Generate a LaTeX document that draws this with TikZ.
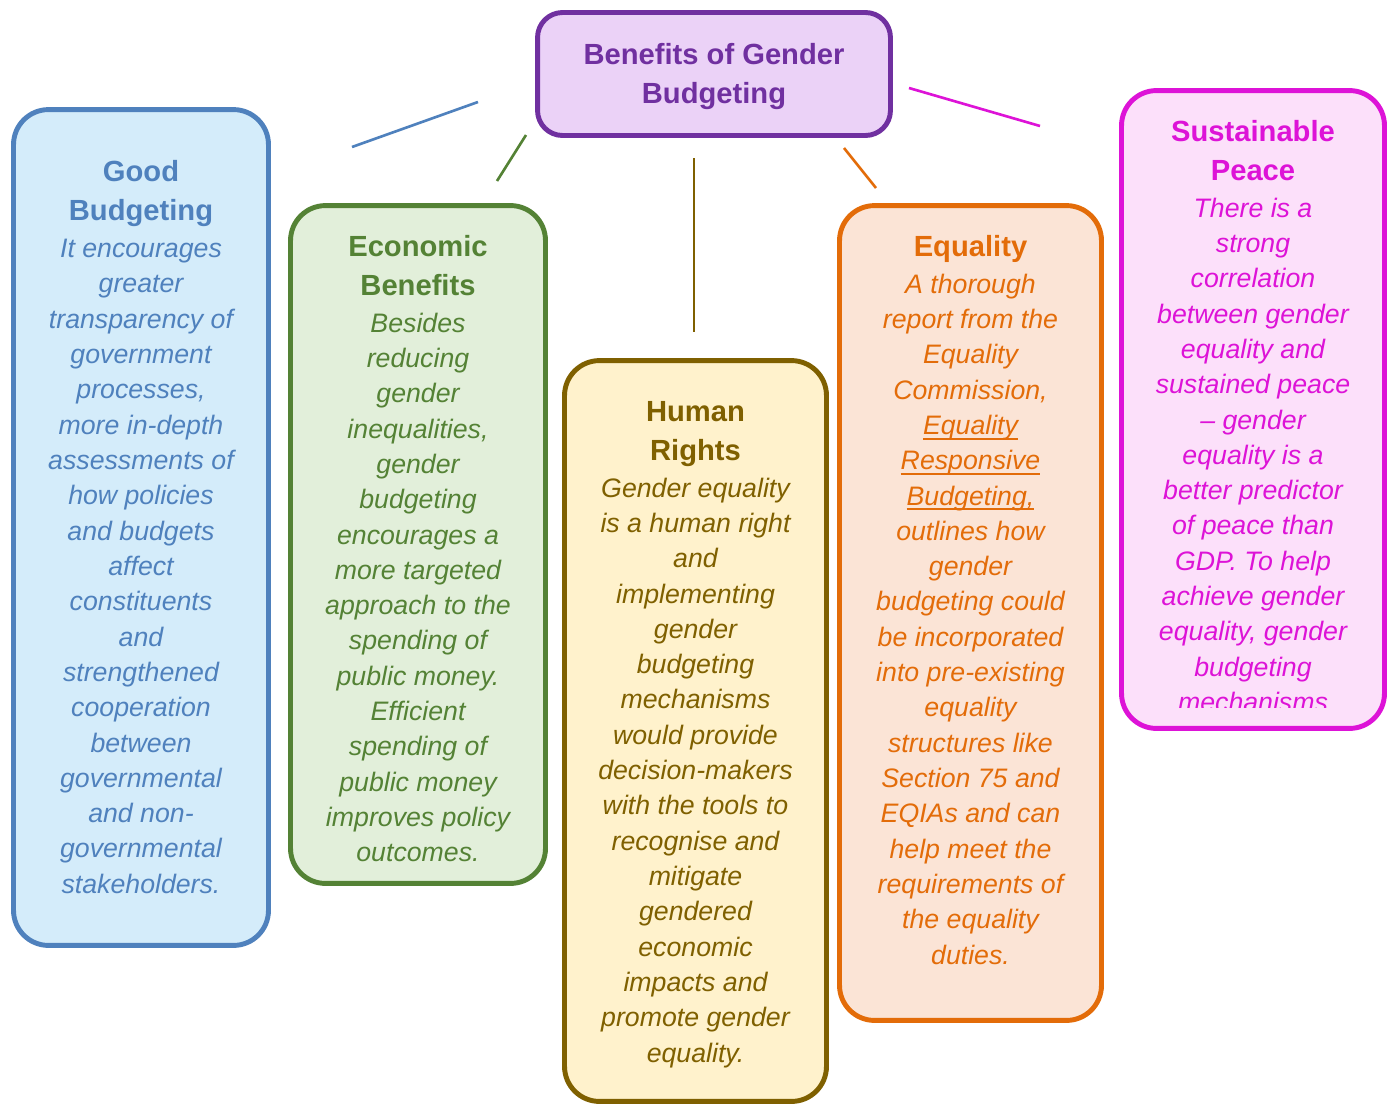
\documentclass[tikz,border=0pt]{standalone}
\usepackage{fontspec}
\setmainfont{Liberation Sans}
\usetikzlibrary{positioning}

\definecolor{hubline}{HTML}{7030A0}
\definecolor{hubfill}{HTML}{EBD2F7}
\definecolor{goodline}{HTML}{4F81BD}
\definecolor{goodfill}{HTML}{D4ECFA}
\definecolor{econline}{HTML}{548235}
\definecolor{econfill}{HTML}{E2EFDA}
\definecolor{rightsline}{HTML}{7F6000}
\definecolor{rightsfill}{HTML}{FFF2CC}
\definecolor{eqline}{HTML}{E36C09}
\definecolor{eqfill}{HTML}{FBE4D6}
\definecolor{peaceline}{HTML}{DD13D7}
\definecolor{peacefill}{HTML}{FCE0FA}

\newcommand{\headfont}{\fontsize{16.6}{22.2}\selectfont\bfseries\upshape}
\newcommand{\ulword}[1]{\setbox0\hbox{#1}\rlap{\rule[-0.2em]{\wd0}{0.075em}}#1}

\begin{document}
\begin{tikzpicture}[x=0.02cm,y=-0.02cm,
  box node/.style={rectangle,rounded corners=0.7cm,line width=2.8pt,inner sep=0pt},
  text node/.style={align=center,inner sep=0pt,font=\fontsize{15.2}{20.1}\selectfont\itshape},
  link/.style={line width=1.5pt}]

  \useasboundingbox (0,0) rectangle (1390,1106);

  % boxes
  \node[box node,draw=hubline,fill=hubfill,text=hubline,rounded corners=0.5cm,
    minimum width=7.06cm,minimum height=2.46cm,align=center,font=\headfont] (hub) at (714,74)
    {\\[-0.24cm] Benefits of Gender\\ Budgeting};
  \node[box node,draw=goodline,fill=goodfill,minimum width=5.1cm,minimum height=16.72cm] (good) at (141,527.5) {};
  \node[box node,draw=econline,fill=econfill,minimum width=5.1cm,minimum height=13.56cm] (econ) at (418,544.5) {};
  \node[box node,draw=rightsline,fill=rightsfill,minimum width=5.24cm,minimum height=14.82cm] (rights) at (695.5,731) {};
  \node[box node,draw=eqline,fill=eqfill,minimum width=5.24cm,minimum height=16.3cm] (eq) at (970.5,613) {};
  \node[box node,draw=peaceline,fill=peacefill,minimum width=5.26cm,minimum height=12.76cm] (peace) at (1253,409.5) {};

  % texts
  \node[text node,text=goodline] (good text) [below=1.06cm of good.north]
    {\headfont Good\\[0.074cm] \headfont Budgeting\\[0.034cm]
     It encourages\\ greater\\ transparency of\\ government\\ processes,\\ more in-depth\\
     assessments of\\ how policies\\ and budgets\\ affect\\ constituents\\ and\\ strengthened\\
     cooperation\\ between\\ governmental\\ and non-\\ governmental\\ stakeholders.};
  \node[text node,text=econline] (econ text) [below=0.63cm of econ.north]
    {\headfont Economic\\[0.074cm] \headfont Benefits\\[0.034cm]
     Besides\\ reducing\\ gender\\ inequalities,\\ gender\\ budgeting\\ encourages a\\
     more targeted\\ approach to the\\ spending of\\ public money.\\ Efficient\\ spending of\\
     public money\\ improves policy\\ outcomes.};
  \node[text node,text=rightsline] (rights text) [below=0.85cm of rights.north]
    {\headfont Human\\[0.074cm] \headfont Rights\\[0.034cm]
     Gender equality\\ is a human right\\ and\\ implementing\\ gender\\ budgeting\\ mechanisms\\
     would provide\\ decision-makers\\ with the tools to\\ recognise and\\ mitigate\\ gendered\\
     economic\\ impacts and\\ promote gender\\ equality.};
  \node[text node,text=eqline] (eq text) [below=0.63cm of eq.north]
    {\headfont Equality\\[0.034cm]
     A thorough\\ report from the\\ Equality\\ Commission,\\ \ulword{Equality}\\
     \ulword{Responsive}\\ \ulword{Budgeting,}\\ outlines how\\ gender\\ budgeting could\\
     be incorporated\\ into pre-existing\\ equality\\ structures like\\ Section 75 and\\
     EQIAs and can\\ help meet the\\ requirements of\\ the equality\\ duties.};
  \begin{scope}
    \clip ([yshift=0.47cm]peace.south west) rectangle (peace.north east);
    \node[text node,text=peaceline] (peace text) [below=0.63cm of peace.north]
      {\headfont Sustainable\\[0.074cm] \headfont Peace\\[0.034cm]
       There is a\\ strong\\ correlation\\ between gender\\ equality and\\ sustained peace\\
       \textendash{} gender\\ equality is a\\ better predictor\\ of peace than\\ GDP. To help\\
       achieve gender\\ equality, gender\\ budgeting\\ mechanisms};
  \end{scope}

  % connectors
  \coordinate (hub good) at (478,102);
  \coordinate (good top) at (352,147);
  \coordinate (hub econ) at (526,135);
  \coordinate (econ top) at (497,181);
  \coordinate (hub rights) at (694,158);
  \coordinate (rights top) at (694,332);
  \coordinate (hub eq) at (844,148);
  \coordinate (eq top) at (876,188);
  \coordinate (hub peace) at (909,88);
  \coordinate (peace top) at (1040,126);

  \draw[link,goodline] (hub good) -- (good top);
  \draw[link,econline] (hub econ) -- (econ top);
  \draw[link,rightsline] (hub rights) -- (rights top);
  \draw[link,eqline] (hub eq) -- (eq top);
  \draw[link,peaceline] (hub peace) -- (peace top);

\end{tikzpicture}
\end{document}
